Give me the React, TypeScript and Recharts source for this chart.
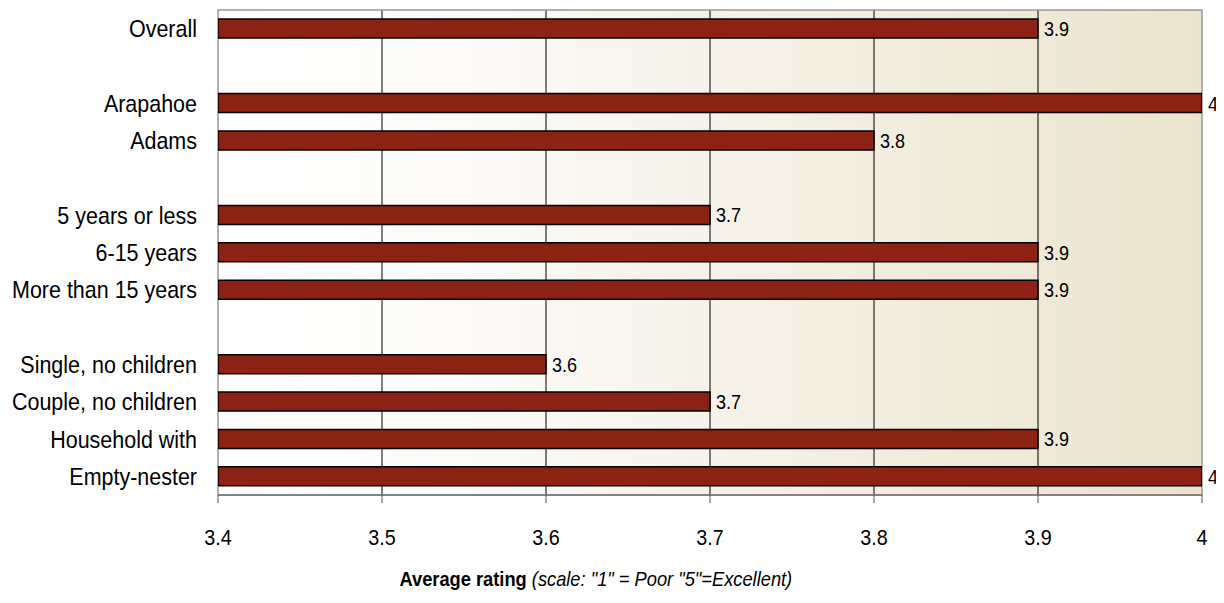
import React from 'react';
import { BarChart, Bar, XAxis, YAxis, CartesianGrid, LabelList, ReferenceArea, Label } from 'recharts';

const categories = [
  'Overall', '', 'Arapahoe', 'Adams', '', '5 years or less', '6-15 years',
  'More than 15 years', '', 'Single, no children', 'Couple, no children',
  'Household with', 'Empty-nester',
];
const ratings: (number | null)[] = [3.9, null, 4, 3.8, null, 3.7, 3.9, 3.9, null, 3.6, 3.7, 3.9, 4];
const xTicks = [3.4, 3.5, 3.6, 3.7, 3.8, 3.9, 4];
const rowEdges = [0, 1, 2, 3, 4, 5, 6, 7, 8, 9, 10, 11, 12, 13];

const data = categories.map((name, i) => ({ name, rating: ratings[i] }));

const FONT = '"Liberation Sans", Arial, sans-serif';

// narrow text: the original uses a condensed face, so squeeze Liberation Sans
const NarrowText = ({ x, y, anchor, size, sx, dy, children }: any) => (
  <g transform={`translate(${x},${y})`}>
    <text transform={`scale(${sx},1)`} textAnchor={anchor} dy={dy} fontSize={size} fontFamily={FONT} fill="#000">
      {children}
    </text>
  </g>
);

const YTick = (props: any) => (
  <NarrowText x={props.x} y={props.y} anchor="end" size={24} sx={0.895} dy="0.355em">
    {props.payload.value}
  </NarrowText>
);

const XTick = (props: any) => (
  <NarrowText x={props.x} y={props.y} anchor="middle" size={22} sx={0.9} dy="0.71em">
    {String(props.payload.value)}
  </NarrowText>
);

const ValueLabel = (props: any) => {
  const { x, y, width, height, value } = props;
  if (value == null) return null;
  return (
    <NarrowText x={x + width + 6} y={y + height / 2} anchor="start" size={21} sx={0.86} dy="0.355em">
      {String(value)}
    </NarrowText>
  );
};

const AxisTitle = (props: any) => {
  const vb = props.viewBox || {};
  const cx = vb.x + vb.width * 0.384;
  return (
    <g transform={`translate(${cx},${vb.y + 91})`}>
      <text transform="scale(0.87,1)" textAnchor="middle" fontFamily={FONT} fontSize={21} fill="#000">
        <tspan fontWeight="bold">Average rating</tspan>
        <tspan fontStyle="italic">{' (scale: "1" = Poor "5"=Excellent)'}</tspan>
      </text>
    </g>
  );
};

export default function App() {
  return (
    <div style={{ width: 1216, height: 585, fontFamily: FONT }}>
      <BarChart
        width={1216}
        height={585}
        data={data}
        layout="vertical"
        margin={{ top: 2, right: 22, left: 0, bottom: 0 }}
        barSize={19}
        style={{ overflow: 'visible' }}
      >
        <defs>
          <linearGradient id="bgFill" x1="0" y1="0" x2="1" y2="0">
            <stop offset="0%" stopColor="#ffffff" />
            <stop offset="25%" stopColor="#fcfbf8" />
            <stop offset="60%" stopColor="#f4efe3" />
            <stop offset="100%" stopColor="#ece4cf" />
          </linearGradient>
        </defs>
        <CartesianGrid
          horizontal={false}
          stroke="#000"
          strokeWidth={1}
          fill="url(#bgFill)"
          verticalValues={[3.5, 3.6, 3.7, 3.8, 3.9]}
        />
        <ReferenceArea x1={3.4} x2={4} fill="none" fillOpacity={0} stroke="#999" strokeWidth={1.5} />
        <XAxis
          type="number"
          domain={[3.4, 4]}
          ticks={xTicks}
          allowDataOverflow
          height={98}
          stroke="#555"
          tickSize={8}
          tickMargin={26}
          tick={<XTick />}
        >
          <Label content={<AxisTitle />} />
        </XAxis>
        <YAxis
          yAxisId="edges"
          type="number"
          domain={[0, 13]}
          ticks={rowEdges}
          width={0}
          tick={false}
          tickSize={8}
          stroke="#000"
          axisLine={{ stroke: '#000', strokeWidth: 1.5 }}
        />
        <YAxis
          type="category"
          dataKey="name"
          width={210}
          axisLine={false}
          tickLine={false}
          tickSize={0}
          tickMargin={21}
          interval={0}
          tick={<YTick />}
        />
        <Bar dataKey="rating" fill="#8b2213" stroke="#000" strokeWidth={1.5} isAnimationActive={false}>
          <LabelList dataKey="rating" content={<ValueLabel />} />
        </Bar>
      </BarChart>
    </div>
  );
}
